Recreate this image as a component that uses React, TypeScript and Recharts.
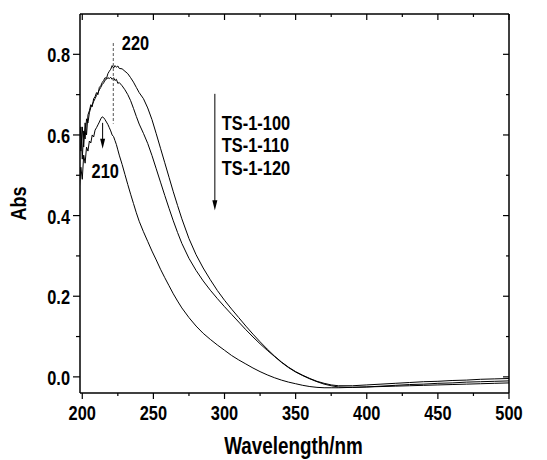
import React from 'react';
import { LineChart, Line, XAxis, YAxis, ReferenceLine } from 'recharts';

const wavelength = [
  198, 199, 200, 201, 202, 203, 204, 205, 206, 207, 208, 209, 210, 211, 212, 213, 214, 215, 216, 217,
  218, 219, 220, 221, 222, 223, 224, 225, 226, 228, 230, 232, 234, 236, 238, 240, 243, 246, 249, 252,
  255, 258, 261, 264, 267, 270, 275, 280, 285, 290, 295, 300, 305, 310, 315, 320, 325, 330, 335, 340,
  345, 350, 355, 360, 365, 370, 375, 380, 390, 400, 410, 420, 430, 440, 450, 460, 470, 480, 490, 500,
];

const ts100 = [
  0.60, 0.56, 0.62, 0.57, 0.63, 0.60, 0.65, 0.66, 0.675, 0.67, 0.69, 0.695, 0.705, 0.70, 0.718, 0.722, 0.73, 0.735, 0.742, 0.74,
  0.752, 0.758, 0.763, 0.772, 0.766, 0.772, 0.768, 0.771, 0.765, 0.764, 0.758, 0.752, 0.742, 0.731, 0.718, 0.705, 0.69, 0.667, 0.638, 0.603,
  0.567, 0.531, 0.495, 0.459, 0.425, 0.392, 0.343, 0.303, 0.27, 0.241, 0.214, 0.19, 0.168, 0.147, 0.126, 0.106, 0.087, 0.069, 0.052, 0.037,
  0.024, 0.013, 0.004, -0.004, -0.011, -0.016, -0.02, -0.022, -0.022, -0.02, -0.018, -0.016, -0.014, -0.012, -0.011, -0.009, -0.008, -0.006, -0.005, -0.004,
];

const ts110 = [
  0.57, 0.62, 0.54, 0.61, 0.59, 0.64, 0.63, 0.655, 0.668, 0.675, 0.683, 0.69, 0.698, 0.705, 0.712, 0.718, 0.725, 0.729, 0.736, 0.738,
  0.742, 0.74, 0.743, 0.738, 0.742, 0.735, 0.738, 0.728, 0.73, 0.722, 0.712, 0.70, 0.685, 0.666, 0.646, 0.627, 0.604, 0.579, 0.549, 0.516,
  0.483, 0.45, 0.418, 0.387, 0.358, 0.331, 0.294, 0.264, 0.238, 0.215, 0.194, 0.174, 0.155, 0.136, 0.117, 0.099, 0.082, 0.066, 0.051, 0.036,
  0.023, 0.012, 0.003, -0.005, -0.012, -0.018, -0.022, -0.025, -0.026, -0.025, -0.023, -0.021, -0.019, -0.018, -0.016, -0.015, -0.013, -0.012, -0.011, -0.01,
];

const ts120 = [
  0.47, 0.52, 0.49, 0.55, 0.53, 0.57, 0.56, 0.585, 0.58, 0.60, 0.595, 0.612, 0.618, 0.625, 0.632, 0.64, 0.645, 0.643, 0.638, 0.632,
  0.626, 0.618, 0.61, 0.60, 0.596, 0.586, 0.576, 0.563, 0.55, 0.527, 0.502, 0.477, 0.453, 0.43, 0.407, 0.386, 0.36, 0.336, 0.312, 0.29,
  0.267, 0.246, 0.226, 0.206, 0.188, 0.171, 0.147, 0.126, 0.108, 0.093, 0.079, 0.066, 0.053, 0.042, 0.032, 0.022, 0.013, 0.005, -0.002, -0.008,
  -0.013, -0.017, -0.021, -0.024, -0.026, -0.027, -0.027, -0.027, -0.026, -0.025, -0.024, -0.023, -0.022, -0.021, -0.02, -0.019, -0.018, -0.017, -0.016, -0.015,
];

const sampleNames = ['TS-1-100', 'TS-1-110', 'TS-1-120'];

const xTicks = [200, 225, 250, 275, 300, 325, 350, 375, 400, 425, 450, 475, 500];
const yTicks = [0, 0.1, 0.2, 0.3, 0.4, 0.5, 0.6, 0.7, 0.8];

const data = wavelength.map((w, i) => ({ wl: w, a: ts100[i], b: ts110[i], c: ts120[i] }));

const FONT = '"Liberation Sans", Arial, sans-serif';
const SQUEEZE = 0.82; // reference uses a condensed bold face
const X_DOMAIN: [number, number] = [198.4, 500];
const Y_DOMAIN: [number, number] = [-0.04, 0.9];

const isMajorX = (v: number) => v % 50 === 0;
const isMajorY = (v: number) => Math.abs(Math.round(v * 10) % 2) === 0;

// bold condensed text
const T = ({ x, y, size = 20, anchor = 'start', rotate = 0, children }: any) => (
  <text
    transform={`translate(${x},${y}) rotate(${rotate}) scale(${SQUEEZE},1)`}
    textAnchor={anchor}
    fontFamily={FONT}
    fontWeight="bold"
    fontSize={size}
    fill="#000"
  >
    {children}
  </text>
);

const BottomTick = ({ x, y, payload }: any) => {
  const major = isMajorX(payload.value);
  return (
    <g>
      <line x1={x} y1={y} x2={x} y2={y + (major ? 6 : 3)} stroke="#000" strokeWidth={1.2} />
      {major && <T x={x} y={y + 27} anchor="middle">{payload.value}</T>}
    </g>
  );
};

const LeftTick = ({ x, y, payload }: any) => {
  const major = isMajorY(payload.value);
  return (
    <g>
      <line x1={x} y1={y} x2={x - (major ? 7 : 4)} y2={y} stroke="#000" strokeWidth={1.2} />
      {major && <T x={x - 10} y={y + 8} anchor="end">{payload.value.toFixed(1)}</T>}
    </g>
  );
};

// inward tick on the top edge of a vertical reference line
const TopTickShape = (p: any) => {
  const top = Math.min(p.y1, p.y2);
  const len = p.major ? 6 : 3;
  return <line x1={p.x1} y1={top} x2={p.x1} y2={top + len} stroke="#000" strokeWidth={1.2} />;
};

// inward tick on the right edge of a horizontal reference line
const RightTickShape = (p: any) => {
  const right = Math.max(p.x1, p.x2);
  const len = p.major ? 6 : 3;
  return <line x1={right} y1={p.y1} x2={right - len} y2={p.y1} stroke="#000" strokeWidth={1.2} />;
};

const FrameShape = (p: any) => (
  <line x1={p.x1} y1={p.y1} x2={p.x2} y2={p.y2} stroke="#000" strokeWidth={1.5} />
);

const DownArrow = (p: any) => {
  const { x1, y1, x2, y2 } = p;
  return (
    <g>
      <line x1={x1} y1={y1} x2={x2} y2={y2 - 8} stroke="#000" strokeWidth={1} />
      <polygon points={`${x2 - 2.5},${y2 - 10} ${x2 + 2.5},${y2 - 10} ${x2},${y2}`} fill="#000" />
    </g>
  );
};

const SeriesArrow = (p: any) => (
  <g>
    <DownArrow {...p} />
    {sampleNames.map((n, i) => (
      <T key={n} x={p.x1 + 7} y={p.y1 + 36 + i * 22.4}>{n}</T>
    ))}
  </g>
);

const PeakArrow210 = (p: any) => (
  <g>
    <DownArrow {...p} />
    <T x={p.x2 - 11} y={p.y2 + 29}>210</T>
  </g>
);

const Peak220 = (p: any) => (
  <g>
    <line x1={p.x1} y1={p.y1} x2={p.x2} y2={p.y2} stroke="#555" strokeWidth={1} strokeDasharray="3 2" />
    <T x={p.x1 + 8.5} y={Math.min(p.y1, p.y2) + 7}>220</T>
  </g>
);

export default function App() {
  return (
    <div style={{ position: 'absolute', left: 0, top: 0, width: 547, height: 460, background: '#fff' }}>
      <LineChart width={547} height={460} data={data} margin={{ top: 14, right: 38, left: 0, bottom: 0 }}>
        <XAxis
          dataKey="wl"
          type="number"
          domain={X_DOMAIN}
          allowDataOverflow
          ticks={xTicks}
          interval={0}
          height={67}
          tickSize={0}
          tickMargin={0}
          tickLine={false}
          tick={<BottomTick />}
          axisLine={{ stroke: '#000', strokeWidth: 1.5 }}
          label={({ viewBox }: any) => (
            <T x={viewBox.x + viewBox.width / 2 - 1} y={viewBox.y + 61} size={23} anchor="middle">
              Wavelength/nm
            </T>
          )}
        />
        <YAxis
          type="number"
          domain={Y_DOMAIN}
          allowDataOverflow
          ticks={yTicks}
          interval={0}
          width={80}
          tickSize={0}
          tickMargin={0}
          tickLine={false}
          tick={<LeftTick />}
          axisLine={{ stroke: '#000', strokeWidth: 1.5 }}
          label={({ viewBox }: any) => (
            <T x={26} y={viewBox.y + viewBox.height / 2} size={22} anchor="middle" rotate={-90}>
              Abs
            </T>
          )}
        />
        <ReferenceLine segment={[{ x: X_DOMAIN[0], y: Y_DOMAIN[1] }, { x: X_DOMAIN[1], y: Y_DOMAIN[1] }]} shape={<FrameShape />} />
        <ReferenceLine segment={[{ x: X_DOMAIN[1], y: Y_DOMAIN[0] }, { x: X_DOMAIN[1], y: Y_DOMAIN[1] }]} shape={<FrameShape />} />
        {xTicks.map((v) => (
          <ReferenceLine key={`tx${v}`} x={v} shape={<TopTickShape major={isMajorX(v)} />} />
        ))}
        {yTicks.map((v) => (
          <ReferenceLine key={`ry${v}`} y={v} shape={<RightTickShape major={isMajorY(v)} />} />
        ))}
        <Line type="linear" dataKey="a" name={sampleNames[0]} stroke="#000" strokeWidth={1} dot={false} isAnimationActive={false} />
        <Line type="linear" dataKey="b" name={sampleNames[1]} stroke="#000" strokeWidth={1} dot={false} isAnimationActive={false} />
        <Line type="linear" dataKey="c" name={sampleNames[2]} stroke="#000" strokeWidth={1} dot={false} isAnimationActive={false} />
        <ReferenceLine segment={[{ x: 221.8, y: 0.828 }, { x: 221.8, y: 0.628 }]} shape={<Peak220 />} />
        <ReferenceLine segment={[{ x: 214.3, y: 0.63 }, { x: 214.3, y: 0.566 }]} shape={<PeakArrow210 />} />
        <ReferenceLine segment={[{ x: 293.2, y: 0.702 }, { x: 293.2, y: 0.413 }]} shape={<SeriesArrow />} />
      </LineChart>
    </div>
  );
}
